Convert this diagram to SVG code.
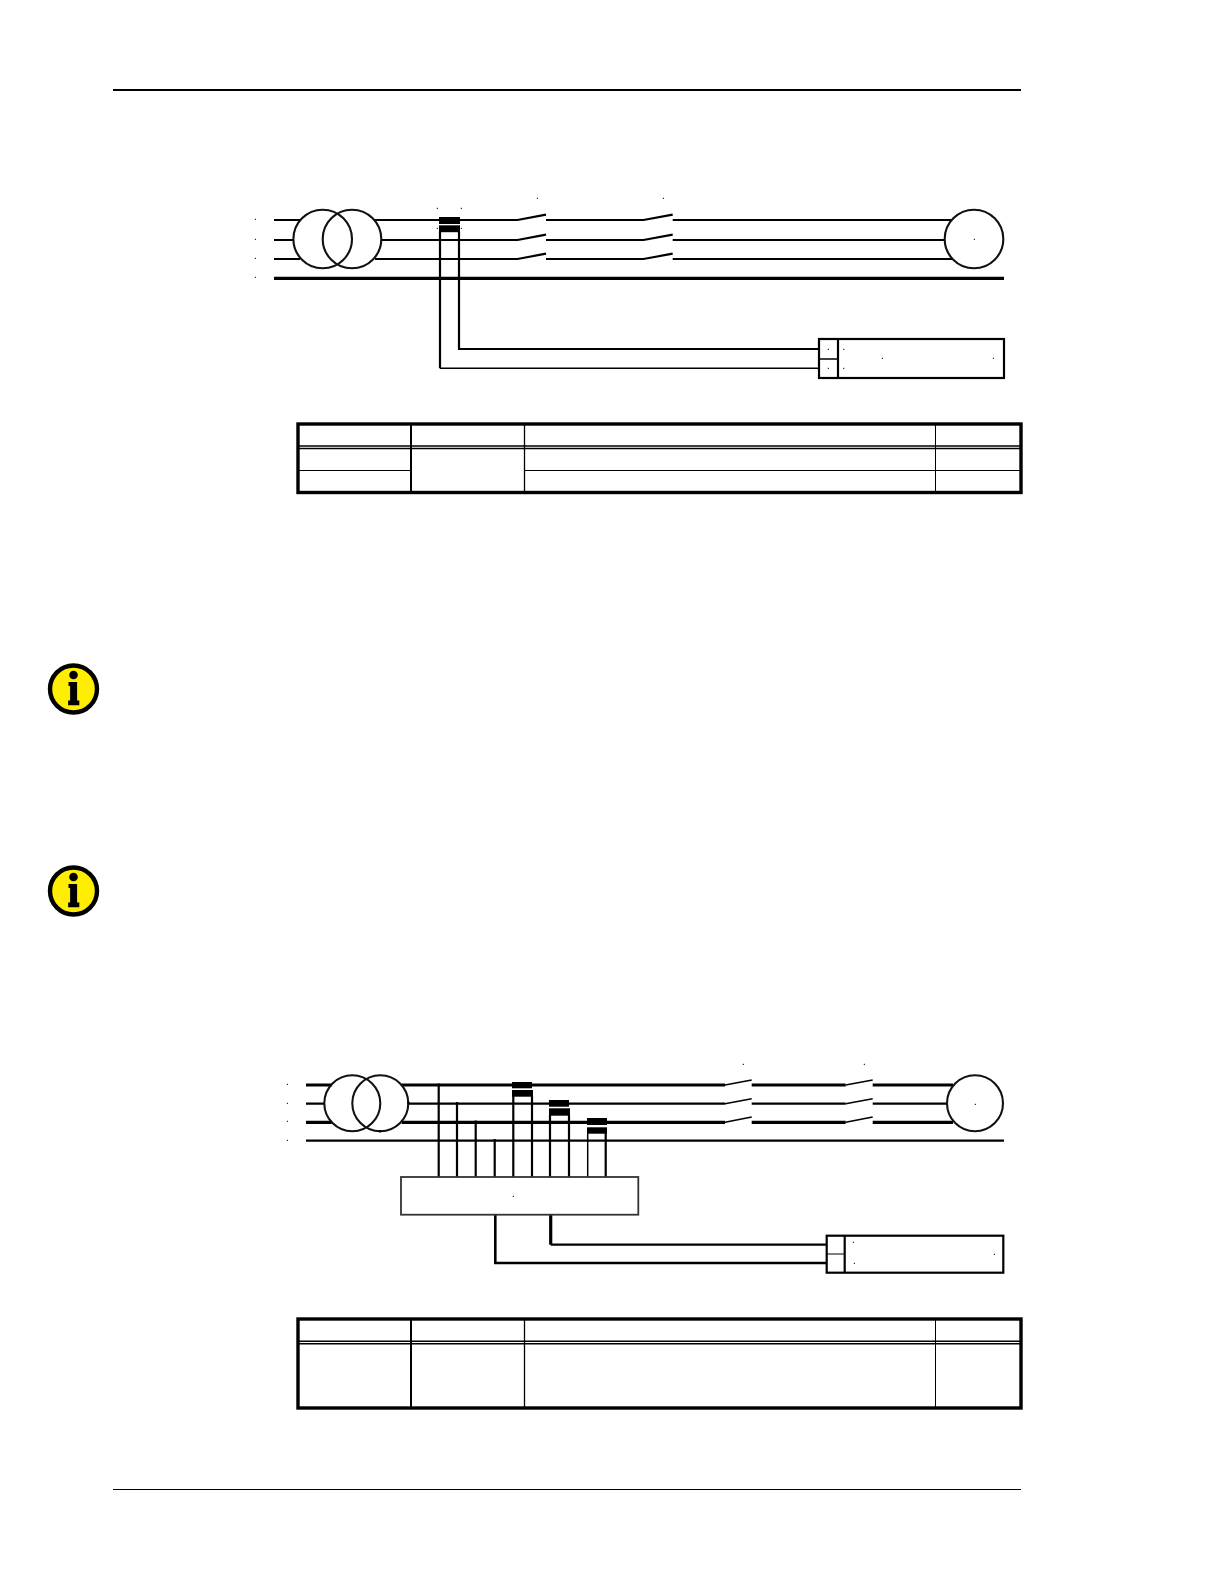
<svg xmlns="http://www.w3.org/2000/svg" width="1224" height="1584" viewBox="0 0 1224 1584">
<style>
.w{fill:none;stroke:#000;stroke-width:2.2}
.t1{fill:none;stroke:#000;stroke-width:1.5}
.t3{fill:none;stroke:#000;stroke-width:3.2}
.c{fill:none;stroke:#111;stroke-width:2.1}
.b{fill:#000;stroke:none}
.o{fill:none;stroke:#000;stroke-width:3.4}
.d{fill:#000;stroke:none}
</style>
<defs>
<g id="dot"><rect class="d" x="-.5" y="-.5" width="1.1" height="1.1"/></g>
<g id="info">
<circle r="23.5" fill="#ffee00" stroke="#000" stroke-width="4.4"/>
<circle cx="0" cy="-14" r="4.3" fill="#000"/>
<path d="M-5 -7H3.6V11.5H5.8V16.2H-5.4V11.5H-3.4V-3H-5Z" fill="#000"/>
</g>
</defs>
<rect width="1224" height="1584" fill="#fff"/>
<g id="page-rules">
<line x1="113" y1="90" x2="1021" y2="90" stroke="#000" stroke-width="2"/>
<line x1="113" y1="1489.5" x2="1021" y2="1489.5" stroke="#000" stroke-width="1"/>
</g>

<g id="connectors-top">
<path class="w" d="M274 220H300M375 220H517.5L546 214.7M546 220H643.5L672.7 214.7M672.7 220H952"/>
<path class="w" d="M274 240H293.3M381.3 240H517.5L546 234.7M546 240H643.5L672.7 234.7M672.7 240H945"/>
<path class="w" d="M274 259H300M375 259H517.5L546 253.7M546 259H643.5L672.7 253.7M672.7 259H952"/>
<line class="t3" x1="274" y1="278.3" x2="1004" y2="278.3"/>
<path class="w" d="M459 232V349H819"/>
<path class="w" d="M440 232V368.3"/>
<path class="t1" d="M440 368.3H819"/>
</g>
<g id="transformer-top">
<circle class="c" cx="322.7" cy="239" r="29.3"/>
<circle class="c" cx="352" cy="239" r="29.3"/>
</g>
<g id="ct-top">
<rect class="b" x="439" y="217" width="21" height="7"/>
<rect class="b" x="439" y="225.3" width="21" height="6.9"/>
</g>
<g id="motor-top"><circle class="c" cx="974" cy="239" r="29.3"/></g>
<g id="device-top">
<rect class="w" x="819" y="339" width="185" height="39"/>
<line class="w" x1="838" y1="339" x2="838" y2="378"/>
<line class="t1" x1="819" y1="359" x2="838" y2="359"/>
</g>
<g id="marks-top">
<use href="#dot" x="255.3" y="219.3"/><use href="#dot" x="255.3" y="239.3"/><use href="#dot" x="255.3" y="258.3"/><use href="#dot" x="255.3" y="277.3"/>
<use href="#dot" x="437.3" y="208.3"/><use href="#dot" x="461.3" y="208.3"/><use href="#dot" x="437.3" y="228.3"/><use href="#dot" x="461.3" y="228.3"/>
<use href="#dot" x="537.3" y="198.3"/><use href="#dot" x="663.3" y="198.3"/><use href="#dot" x="974.3" y="239.3"/>
<use href="#dot" x="828.3" y="349.3"/><use href="#dot" x="843.7" y="349.3"/><use href="#dot" x="828.3" y="368.3"/><use href="#dot" x="843.7" y="368.3"/>
<use href="#dot" x="882.3" y="358.3"/><use href="#dot" x="993.3" y="358.3"/>
</g>

<g id="table-top">
<rect class="o" x="298" y="424" width="723" height="68.5"/>
<line x1="411" y1="424" x2="411" y2="492" stroke="#000" stroke-width="2"/>
<line x1="524.5" y1="424" x2="524.5" y2="492" stroke="#000" stroke-width="1.3"/>
<line x1="935.5" y1="424" x2="935.5" y2="492" stroke="#000" stroke-width="1"/>
<line x1="298" y1="446" x2="1021" y2="446" stroke="#000" stroke-width="1.5"/>
<line x1="298" y1="448.5" x2="1021" y2="448.5" stroke="#000" stroke-width="1.5"/>
<line x1="298" y1="470.5" x2="411" y2="470.5" stroke="#000" stroke-width="1.2"/>
<line x1="524.5" y1="470.5" x2="1021" y2="470.5" stroke="#000" stroke-width="1.2"/>
</g>

<use id="info-1" href="#info" x="73.5" y="689"/>
<use id="info-2" href="#info" x="73.5" y="891"/>

<g id="connectors-bottom">
<path class="t3" d="M306 1085H331.7M401.7 1085H725M751.7 1085H845.7M872.7 1085H953"/>
<path class="w" d="M306 1103.7H324.3M408.3 1103.7H725M751.7 1103.7H845.7M872.7 1103.7H947"/>
<path class="t3" d="M306 1122.3H331.7M401.7 1122.3H725M751.7 1122.3H845.7M872.7 1122.3H953"/>
<line class="w" x1="306" y1="1140.7" x2="1004" y2="1140.7"/>
<path class="t1" d="M725 1085L751.7 1080M845.7 1085L872.7 1080M725 1103.7L751.7 1098.7M845.7 1103.7L872.7 1098.7M725 1122.3L751.7 1117M845.7 1122.3L872.7 1117"/>
<path class="w" d="M438.7 1083.5V1177M457 1102V1177M475.7 1120.5V1177M494.7 1139V1177"/>
<path class="w" d="M513.3 1096V1177M532 1096V1177M550 1115V1177M569 1115V1177M605.7 1133V1177"/>
<line class="t1" x1="587.7" y1="1133" x2="587.7" y2="1177"/>
<path class="t3" style="stroke-width:2.6" d="M495.3 1214.7V1263H827"/>
<path class="t3" d="M550.7 1214.7V1244.7"/>
<path class="w" d="M550.7 1244.7H827"/>
</g>
<g id="transformer-bottom">
<circle class="c" cx="352.3" cy="1103.3" r="28"/>
<circle class="c" cx="380.3" cy="1103.3" r="28"/>
</g>
<g id="ct-bottom">
<rect class="b" x="512" y="1082" width="20" height="6.3"/>
<rect class="b" x="512" y="1090" width="21" height="6.7"/>
<rect class="b" x="549" y="1100" width="20" height="6.7"/>
<rect class="b" x="549" y="1108.3" width="21" height="7.4"/>
<rect class="b" x="587" y="1118" width="20" height="7"/>
<rect class="b" x="587" y="1127.3" width="20" height="6.4"/>
</g>
<g id="adapter-bottom"><rect x="401" y="1177" width="237.3" height="37.7" fill="#fff" stroke="#333" stroke-width="1.8"/></g>
<g id="motor-bottom"><circle class="c" cx="975" cy="1103.3" r="28"/></g>
<g id="device-bottom">
<rect class="w" x="826.7" y="1235.7" width="176.6" height="37"/>
<line class="w" x1="844.7" y1="1235.7" x2="844.7" y2="1272.7"/>
<line x1="826.7" y1="1254" x2="844.7" y2="1254" stroke="#000" stroke-width="1"/>
</g>
<g id="marks-bottom">
<use href="#dot" x="287.3" y="1084.3"/><use href="#dot" x="287.3" y="1103.3"/><use href="#dot" x="287.3" y="1121.3"/><use href="#dot" x="287.3" y="1140.3"/>
<use href="#dot" x="743.3" y="1064.3"/><use href="#dot" x="864.3" y="1064.3"/><use href="#dot" x="975.3" y="1104.3"/>
<use href="#dot" x="513.3" y="1196.3"/><use href="#dot" x="853.3" y="1242.3"/><use href="#dot" x="854.3" y="1263.3"/><use href="#dot" x="994.3" y="1254.3"/>
<circle class="d" cx="380" cy="1131.3" r="1.3"/>
<circle class="d" cx="408.3" cy="1102.7" r="1.3"/>
</g>

<g id="table-bottom">
<rect class="o" x="298" y="1319" width="723" height="89"/>
<line x1="411" y1="1319" x2="411" y2="1408" stroke="#000" stroke-width="2"/>
<line x1="524.5" y1="1319" x2="524.5" y2="1408" stroke="#000" stroke-width="1.3"/>
<line x1="935.5" y1="1319" x2="935.5" y2="1408" stroke="#000" stroke-width="1"/>
<line x1="298" y1="1341.3" x2="1021" y2="1341.3" stroke="#000" stroke-width="1.5"/>
<line x1="298" y1="1343.8" x2="1021" y2="1343.8" stroke="#000" stroke-width="1.5"/>
</g>
</svg>
